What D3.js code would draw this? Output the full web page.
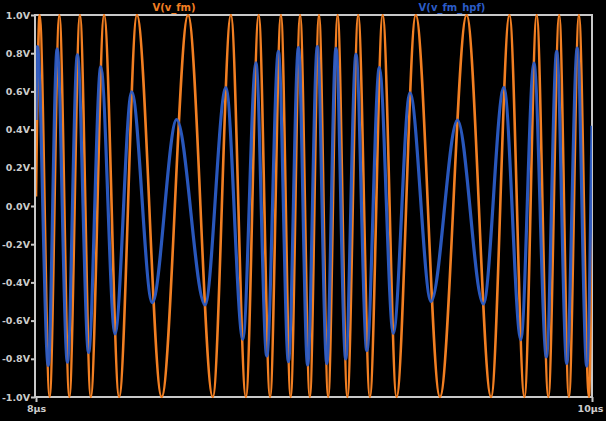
<!DOCTYPE html>
<html>
<head>
<meta charset="utf-8">
<script src="https://cdn.jsdelivr.net/npm/d3@7/dist/d3.min.js"></script>
<style>
html,body{margin:0;padding:0;background:#000;}
svg{display:block;}
</style>
</head>
<body>
<svg id="chart" width="606" height="421"></svg>
<script>
// ---- Data ----
// V(v_fm): extrema times (µs) and values
const fmTime = [8.000,8.013,8.049,8.084,8.120,8.158,8.197,8.245,8.299,8.363,8.452,8.547,8.636,8.701,8.755,8.801,8.842,8.881,8.916,8.950,8.985,9.018,9.051,9.085,9.120,9.159,9.201,9.247,9.297,9.366,9.453,9.549,9.637,9.703,9.757,9.801,9.843,9.882,9.917,9.953,9.989,10.000];
const fmValue = [0.05,1,-1,1,-1,1,-1,1,-1,1,-1,1,-1,1,-1,1,-1,1,-1,1,-1,1,-1,1,-1,1,-1,1,-1,1,-1,1,-1,1,-1,1,-1,1,-1,1,-1,0.1];
// V(v_fm_hpf): extrema times (µs) and values
const hpfTime = [8.000,8.005,8.044,8.076,8.113,8.149,8.189,8.233,8.284,8.344,8.418,8.506,8.608,8.683,8.744,8.791,8.830,8.872,8.908,8.944,8.977,9.012,9.046,9.079,9.114,9.151,9.190,9.235,9.285,9.345,9.421,9.516,9.609,9.683,9.744,9.791,9.836,9.873,9.909,9.947,9.981,10.000];
const hpfValue = [0.45,0.834,-0.835,0.822,-0.818,0.792,-0.767,0.728,-0.670,0.598,-0.506,0.452,-0.518,0.620,-0.698,0.750,-0.785,0.810,-0.815,0.829,-0.832,0.834,-0.824,0.826,-0.800,0.794,-0.757,0.725,-0.667,0.593,-0.500,0.450,-0.513,0.621,-0.700,0.748,-0.790,0.810,-0.824,0.827,-0.838,0.42];
const seriesNames = ["V(v_fm)","V(v_fm_hpf)"];
const yTicks = [-1.0,-0.8,-0.6,-0.4,-0.2,0.0,0.2,0.4,0.6,0.8,1.0];
const xTicks = [8,10];
const xTickLabels = ["8µs","10µs"];

// ---- Layout ----
const svg = d3.select("#chart");
const L = 36, R = 592, T = 15, B = 397;
const x = d3.scaleLinear().domain([8,10]).range([L,R]);
const y = d3.scaleLinear().domain([-1,1]).range([B,T]);
const orange = "#f27f22", blue = "#2b5cc6", grid = "#c8c8c8", txt = "#cccccc";
const font = "DejaVu Sans, Verdana, sans-serif";

svg.append("rect").attr("width",606).attr("height",421).attr("fill","#000");

svg.append("defs").append("clipPath").attr("id","clip")
  .append("rect").attr("x",L).attr("y",T-1).attr("width",R-L).attr("height",B-T+2);

// frame
svg.append("rect").attr("x",L-1).attr("y",T).attr("width",R-L+1).attr("height",B-T)
  .attr("fill","none").attr("stroke",grid).attr("stroke-width",2);

// y axis
const yAxis = d3.axisLeft(y).tickValues(yTicks).tickSize(4).tickPadding(1)
  .tickFormat(d => d.toFixed(1) + "V");
const gy = svg.append("g").attr("transform",`translate(${L-1},0)`).call(yAxis);
gy.select(".domain").remove();
gy.selectAll("line").attr("stroke",grid).attr("stroke-width",2);
gy.selectAll("text").attr("fill",txt).attr("font-family",font).attr("font-size","9.5px").attr("font-weight","bold");

// x axis
const xAxis = d3.axisBottom(x).tickValues(xTicks).tickSize(5).tickPadding(3)
  .tickFormat((d,i) => xTickLabels[i]);
const gx = svg.append("g").attr("transform",`translate(0,${B})`).call(xAxis);
gx.select(".domain").remove();
gx.selectAll("line").attr("stroke",grid).attr("stroke-width",2);
gx.selectAll("text").attr("fill",txt).attr("font-family",font).attr("font-size","9.5px").attr("font-weight","bold");
gx.selectAll("text").filter((d,i) => i === 1).attr("dx","-2");

// series
const line = d3.line().x(d => x(d[0])).y(d => y(d[1])).curve(d3.curveMonotoneX);
const plot = svg.append("g").attr("clip-path","url(#clip)");
plot.append("path").datum(d3.zip(fmTime, fmValue))
  .attr("d",line).attr("fill","none").attr("stroke",orange).attr("stroke-width",2.6).attr("stroke-linejoin","round");
plot.append("path").datum(d3.zip(hpfTime, hpfValue))
  .attr("d",line).attr("fill","none").attr("stroke",blue).attr("stroke-width",3.2).attr("stroke-linejoin","round").attr("opacity",0.95);

// legend titles
svg.append("text").attr("x",174).attr("y",11).attr("text-anchor","middle")
  .attr("fill",orange).attr("font-family",font).attr("font-size","10px").attr("font-weight","bold").text(seriesNames[0]);
svg.append("text").attr("x",452).attr("y",11).attr("text-anchor","middle")
  .attr("fill",blue).attr("font-family",font).attr("font-size","10px").attr("font-weight","bold").text(seriesNames[1]);
</script>
</body>
</html>
